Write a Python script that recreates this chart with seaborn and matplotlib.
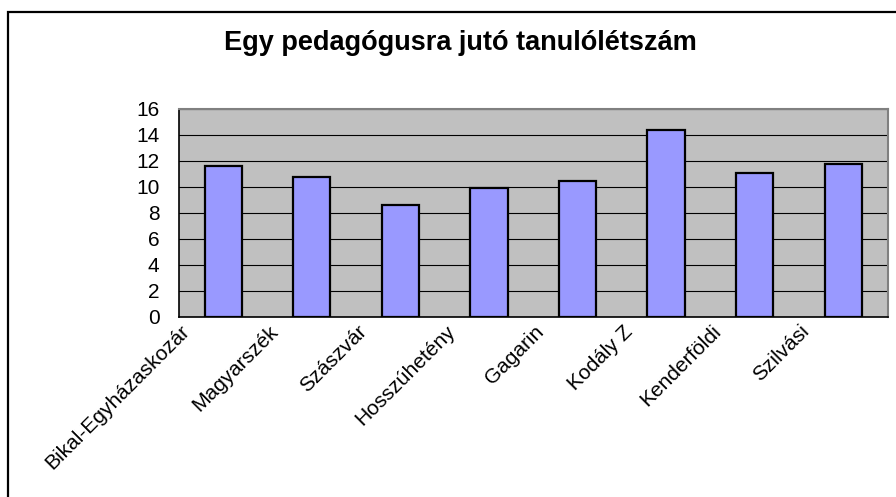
import matplotlib
matplotlib.use("Agg")
import matplotlib.pyplot as plt
import matplotlib.transforms as mtransforms
from matplotlib.patches import Rectangle
import seaborn as sns
import pandas as pd

# adatok
iskolak = ["Bikal-Egyházaskozár", "Magyarszék", "Szászvár", "Hosszúhetény",
           "Gagarin", "Kodály Z", "Kenderföldi", "Szilvási"]
letszam = [11.6, 10.8, 8.6, 9.95, 10.5, 14.35, 11.05, 11.75]
yticks = [0, 2, 4, 6, 8, 10, 12, 14, 16]

sns.set_style("white")
plt.rcParams["font.family"] = ["Liberation Sans", "DejaVu Sans"]
plt.rcParams["text.color"] = "black"
plt.rcParams["xtick.color"] = "black"
plt.rcParams["ytick.color"] = "black"

df = pd.DataFrame({"iskola": iskolak, "letszam": letszam})

fig = plt.figure(figsize=(8.96, 4.97), dpi=100)
ax = fig.add_axes([179 / 896, 1 - 317 / 497, (887.5 - 179) / 896, (317 - 109) / 497])
ax.set_facecolor("#C0C0C0")

sns.barplot(data=df, x="iskola", y="letszam", color="#9999FF", saturation=1,
            edgecolor="black", linewidth=1.6, width=0.42, ax=ax, zorder=3)

ax.set_ylim(0, 16)
ax.set_xlim(-0.5, len(iskolak) - 0.5)
ax.set_yticks(yticks)
ax.set_yticklabels([str(v) for v in yticks], fontsize=15)
ax.yaxis.grid(True, color="black", linewidth=0.8, zorder=1)
ax.set_axisbelow(True)
ax.set_xlabel("")
ax.set_ylabel("")

# x tengely: osztásjelek a kategóriák határán
ax.set_xticks(range(len(iskolak)))
ax.set_xticks([i - 0.5 for i in range(len(iskolak) + 1)], minor=True)
ax.tick_params(axis="x", which="major", length=0, pad=2)
ax.tick_params(axis="x", which="minor", length=5, width=1, color="black", direction="out")
ax.tick_params(axis="y", length=6, width=1, color="black", direction="out", pad=8)
ax.set_xticklabels(iskolak, rotation=45, ha="right", fontsize=15, color="black")
offset = mtransforms.ScaledTranslation(-30 / 100, -2 / 100, fig.dpi_scale_trans)
for lbl in ax.get_xticklabels():
    lbl.set_transform(lbl.get_transform() + offset)

for side in ["top", "right"]:
    ax.spines[side].set_visible(True)
    ax.spines[side].set_color("#808080")
    ax.spines[side].set_linewidth(1.5)
ax.spines["left"].set_color("black")
ax.spines["left"].set_linewidth(1.2)
ax.spines["bottom"].set_color("black")
ax.spines["bottom"].set_linewidth(1.2)

fig.text(460 / 896, 1 - 43 / 497, "Egy pedagógusra jutó tanulólétszám",
         ha="center", va="center", fontsize=19.5, fontweight="bold", color="black")

# keret a diagram körül
fig.patches.append(Rectangle((8 / 896, -0.5), 2, 1.5 - 12 / 497,
                             transform=fig.transFigure, fill=False,
                             edgecolor="black", linewidth=1.6))

fig.savefig("out.png", dpi=100)
